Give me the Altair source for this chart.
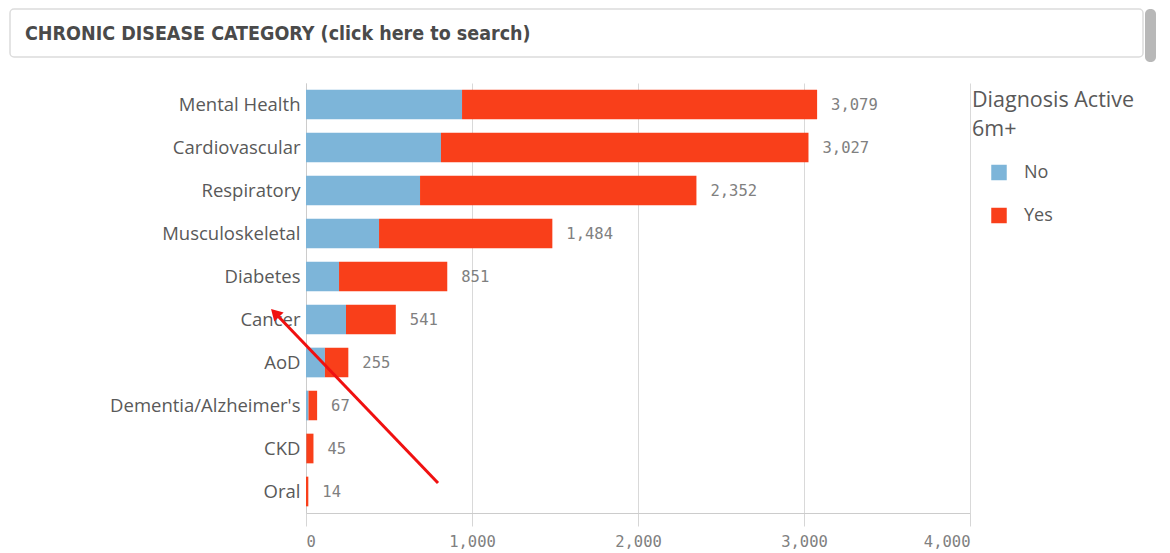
import altair as alt
import pandas as pd

categories = ["Mental Health", "Cardiovascular", "Respiratory", "Musculoskeletal", "Diabetes",
              "Cancer", "AoD", "Dementia/Alzheimer's", "CKD", "Oral"]
totals = [3079, 3027, 2352, 1484, 851, 541, 255, 67, 45, 14]
no_values = [940, 813, 687, 440, 199, 241, 114, 15, 2, 0]
yes_values = [t - n for t, n in zip(totals, no_values)]
status_labels = ["No", "Yes"]
status_colors = ["#7DB5D9", "#F93F1A"]
x_ticks = [0, 1000, 2000, 3000, 4000]

rows = []
for c, n, y in zip(categories, no_values, yes_values):
    rows.append({"cat": c, "status": "No", "value": n})
    rows.append({"cat": c, "status": "Yes", "value": y})
df = pd.DataFrame(rows)
df_tot = pd.DataFrame({"cat": categories, "total": totals})

GREY = "#595959"
NUM_FONT = "DejaVu Sans Mono"
LBL_FONT = "Open Sans"

y_enc = alt.Y("cat:N", sort=categories, title=None,
              scale=alt.Scale(paddingInner=0.31, paddingOuter=0.155),
              axis=alt.Axis(labelFont=LBL_FONT, labelFontSize=18.5, labelColor=GREY,
                            ticks=False, labelPadding=6, domainColor="#cccccc",
                            labelLimit=300, grid=False))

bars = alt.Chart(df).mark_bar(stroke=None).encode(
    x=alt.X("value:Q", stack="zero", title=None,
            scale=alt.Scale(domain=[0, 4000], nice=False),
            axis=alt.Axis(values=x_ticks, format=",d", labelFont=NUM_FONT, labelFontSize=15.5,
                          labelColor="#808080", tickSize=13, tickColor="#d6d6d6",
                          domainColor="#cccccc", grid=True, gridColor="#d9d9d9",
                          labelPadding=8, labelFlush=True)),
    y=y_enc,
    color=alt.Color("status:N", scale=alt.Scale(domain=status_labels, range=status_colors),
                    legend=alt.Legend(title=["Diagnosis Active", "6m+"], orient="none",
                                      legendX=666, legendY=7, titleFontSize=21.5,
                                      titleFont=LBL_FONT, titleFontWeight="normal",
                                      titleColor=GREY, titleLineHeight=29, titlePadding=23,
                                      titleLimit=300, symbolType="square", symbolSize=240,
                                      symbolStrokeWidth=0, symbolOffset=18,
                                      labelFont=LBL_FONT, labelFontSize=18, labelColor=GREY,
                                      labelOffset=16, rowPadding=25, padding=0)),
    order=alt.Order("status:N", sort="ascending"),
)

labels = alt.Chart(df_tot).mark_text(align="left", baseline="middle", dx=14,
                                      font=NUM_FONT, fontSize=15.5, color="#808080").encode(
    x="total:Q",
    y=alt.Y("cat:N", sort=categories),
    text=alt.Text("total:Q", format=",d"),
)

# header search box
ann = pd.DataFrame({"k": [0]})
header_box = alt.Chart(ann).mark_rect(fill="white", stroke="#dcdcdc", strokeWidth=1.5,
                                      cornerRadius=4).encode(
    x=alt.value(-296), x2=alt.value(837), y=alt.value(-74), y2=alt.value(-26))
header_text = alt.Chart(ann).mark_text(align="left", baseline="middle",
                                       font="DejaVu Sans Condensed, Roboto Condensed, Roboto",
                                       fontSize=19.5, fontWeight="bold", color="#4a4a4a").encode(
    x=alt.value(-281), y=alt.value(-49),
    text=alt.value("CHRONIC DISEASE CATEGORY (click here to search)"))
scrollbar = alt.Chart(ann).mark_rect(fill="#b8b8b8", cornerRadius=5).encode(
    x=alt.value(839), x2=alt.value(850), y=alt.value(-74), y2=alt.value(-21))

# red annotation arrow
arrow_line = alt.Chart(ann).mark_rule(color="#f01010", strokeWidth=3).encode(
    x=alt.value(132), y=alt.value(400), x2=alt.value(-30), y2=alt.value(231))
arrow_head = alt.Chart(ann).mark_point(shape="triangle-up", filled=True, color="#f01010",
                                       size=170, angle=316, opacity=1).encode(
    x=alt.value(-31), y=alt.value(230))

chart = alt.layer(header_box, header_text, scrollbar, bars, labels, arrow_line, arrow_head).properties(
    width=664, height=430,
    autosize=alt.AutoSizeParams(type="none"),
    padding={"left": 298, "top": 75, "right": 190, "bottom": 40},
).configure_view(stroke=None)

chart.save("out.html", embed_options={"renderer": "svg", "actions": False})
